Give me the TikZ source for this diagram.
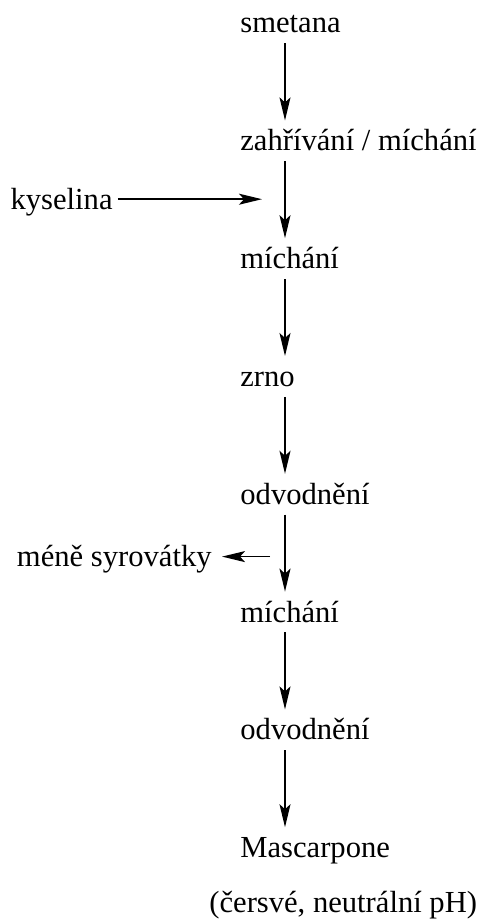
\documentclass[tikz,border=0pt]{standalone}
\usepackage{fontspec}
\setmainfont{Liberation Serif}
\usepackage{tikz}
\usetikzlibrary{arrows.meta}
\usetikzlibrary{positioning}
\tikzstyle{stepnode} = [font={\fontsize{15.3}{18}\selectfont}, inner sep=2.5pt,
        text height=12.5pt, text depth=2.5pt]
\tikzstyle{flow} = [line width=0.8pt, -{Stealth[length=11.5pt, width=5.5pt, inset=2.5pt]}]

\begin{document}
\begin{tikzpicture}
            \useasboundingbox (-117.5pt,16.5pt) rectangle (124.5pt,-443.5pt);
            \node [stepnode, anchor=base west] (smetana) at (0,0) {smetana};
            \node [stepnode, below=38.5pt of smetana.south west, anchor=north west] (heating) {zahřívání / míchání};
            \node [stepnode, below=38.5pt of heating.south west, anchor=north west] (mixing1) {míchání};
            \node [stepnode, below=38.5pt of mixing1.south west, anchor=north west] (grain) {zrno};
            \node [stepnode, below=38.5pt of grain.south west, anchor=north west] (drain1) {odvodnění};
            \node [stepnode, below=38.5pt of drain1.south west, anchor=north west] (mixing2) {míchání};
            \node [stepnode, below=38.5pt of mixing2.south west, anchor=north west] (drain2) {odvodnění};
            \node [stepnode, below=38.5pt of drain2.south west, anchor=north west] (mascarpone) {Mascarpone};
            \node [stepnode, below=7pt of mascarpone.south west, anchor=north west, xshift=-15.5pt] (note) {(čersvé, neutrální pH)};
            \coordinate (acidin) at ([shift={(13.5pt,-19pt)}]heating.south west);
            \coordinate (wheyout) at ([shift={(17.5pt,-21pt)}]drain1.south west);
            \node [stepnode, left=72pt of acidin] (acid) {kyselina};
            \node [stepnode, left=26.5pt of wheyout] (whey) {méně syrovátky};
            \draw [flow] ([xshift=25pt]smetana.south west) -- ([xshift=25pt]heating.north west);
            \draw [flow] ([xshift=25pt]heating.south west) -- ([xshift=25pt]mixing1.north west);
            \draw [flow] ([xshift=25pt]mixing1.south west) -- ([xshift=25pt]grain.north west);
            \draw [flow] ([xshift=25pt]grain.south west) -- ([xshift=25pt]drain1.north west);
            \draw [flow] ([xshift=25pt]drain1.south west) -- ([xshift=25pt]mixing2.north west);
            \draw [flow] ([xshift=25pt]mixing2.south west) -- ([xshift=25pt]drain2.north west);
            \draw [flow] ([xshift=25pt]drain2.south west) -- ([xshift=25pt]mascarpone.north west);
            \draw [flow] (acid) -- (acidin);
            \draw [flow, shorten >=2.5pt] (wheyout) -- (whey);
        \end{tikzpicture}
\end{document}
